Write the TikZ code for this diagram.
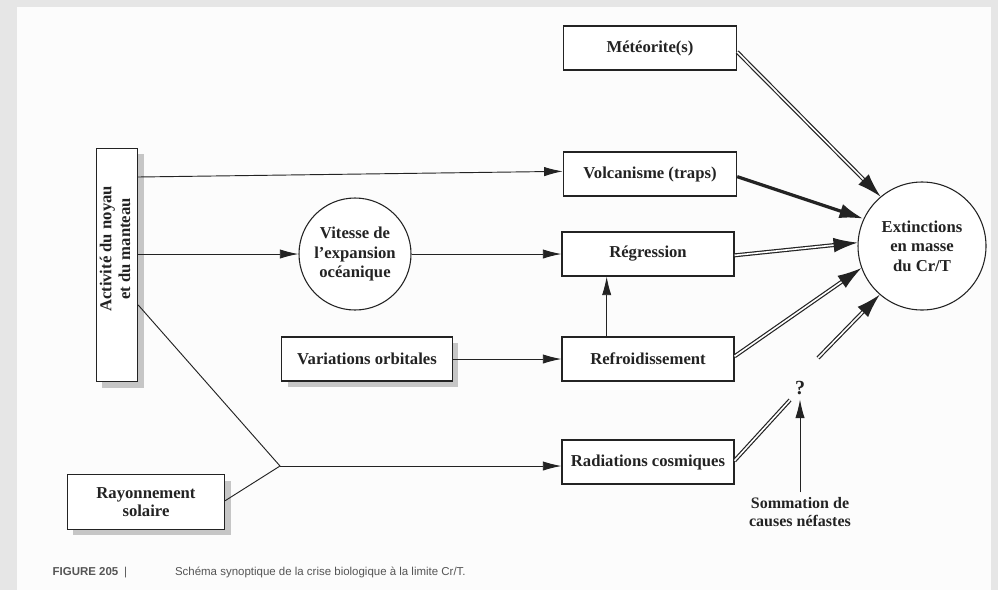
\documentclass[tikz,border=0pt]{standalone}
\usepackage{fontspec}
\setmainfont{Liberation Serif}
\newfontfamily\capfont{Liberation Sans}
\usetikzlibrary{arrows.meta,positioning,shadows}
\definecolor{ink}{RGB}{35,35,35}
\definecolor{pageBg}{RGB}{230,230,230}
\definecolor{paper}{RGB}{252,252,252}
\definecolor{capGray}{RGB}{85,85,85}

\begin{document}
\begin{tikzpicture}[x=0.75pt,y=-0.75pt,
    box/.style={rectangle, draw=ink, line width=0.8pt, fill=white,
                minimum width=129pt, minimum height=33pt, align=center,
                font=\fontsize{12.5}{14}\selectfont\bfseries, text=ink},
    shd/.style={drop shadow={shadow xshift=4.5pt, shadow yshift=-4.5pt,
                fill=gray!45, opacity=1}},
    rond/.style={circle, draw=ink, line width=0.8pt, fill=white, inner sep=0pt,
                 align=center, font=\fontsize{12.5}{14.5}\selectfont\bfseries, text=ink},
    arr/.style={draw=ink, line width=0.7pt, -{Latex[length=14pt,width=7pt]}},
    dbl/.style={draw=ink, double=white, double distance=1.2pt, line width=0.9pt},
    dblarr/.style={dbl, -{Latex[length=18pt,width=11pt]}},
    heavy/.style={draw=ink, line width=2.4pt, -{Latex[length=18pt,width=11pt]}}
  ]
  % page
  \useasboundingbox (0,0) rectangle (998,590);
  \fill[pageBg] (0,0) rectangle (998,590);
  \fill[paper] (17,7) rectangle (991,590);

  % causes
  \node[box, shd, rotate=90, minimum width=175pt, minimum height=31pt, inner sep=0pt]
    (act) at (117,265) {\hspace*{24pt}\begin{tabular}{@{}c@{}}Activité du noyau\\et du manteau\end{tabular}};
  \node[box, shd, minimum width=118pt, minimum height=41pt] (ray) at (146,502) {Rayonnement\\solaire};
  \node[box, shd, minimum width=128pt] (orb) at (367,359) {Variations orbitales};
  \node[rond, minimum size=84pt] (vit) at (355,254) {Vitesse de\\l’expansion\\océanique};

  % effets
  \node[box, minimum width=130pt] (met) at (650,48)  {Météorite(s)};
  \node[box, minimum width=130pt] (vol) at (650,174) {Volcanisme (traps)};
  \node[box] (reg) at (648,254) {Régression};
  \node[box] (fro) at (648,359) {Refroidissement};
  \node[box] (rad) at (648,462) {Radiations cosmiques};

  \node[rond, minimum size=96pt] (ext) at (922,246) {Extinctions\\en masse\\du Cr/T};
  \node[font=\fontsize{15}{17}\selectfont\bfseries, text=ink] (q) at (800,388) {?};
  \node[font=\fontsize{12}{14}\selectfont\bfseries, text=ink, align=center]
    (som) at (800,512) {Sommation de\\causes néfastes};

  \coordinate (jonc) at (280,466);
  \coordinate (radEnd) at (790,400);
  \coordinate (qStart) at (818,358);

  % liens simples
  \draw[arr] ([yshift=66pt]act.south) -- ([yshift=2pt]vol.west);
  \draw[arr] (act.south |- vit.west) -- (vit.west);
  \draw[arr] (vit.east) -- (reg.west);
  \draw[arr] (orb.east) -- (fro.west);
  \draw[arr] ([xshift=-31pt]fro.north) -- ([xshift=-31pt]reg.south);
  \draw[draw=ink, line width=0.7pt] ([yshift=-30pt]act.south) -- (jonc) -- ([yshift=1pt]ray.east);
  \draw[arr] (jonc) -- (rad.west |- jonc);
  \draw[arr] (som.north) -- (q.south);

  % vers les extinctions
  \draw[dblarr] ([yshift=-3pt]met.east) -- (ext.130);
  \draw[heavy] ([yshift=-2pt]vol.east) -- (ext.155);
  \draw[dblarr] ([yshift=-1pt]reg.east) -- (ext.177);
  \draw[dblarr] ([yshift=2pt]fro.east) -- (ext.200);
  \draw[dbl] ([yshift=1pt]rad.east) -- (radEnd);
  \draw[dblarr] (qStart) -- (ext.229);

  % legende
  \node[anchor=west, text=capGray, font=\capfont\fontsize{8.6}{10}\selectfont] (cap) at (48,572)
    {\textbf{FIGURE 205}\enspace|\hspace{36pt}Schéma synoptique de la crise biologique à la limite Cr/T.};
\end{tikzpicture}
\end{document}
